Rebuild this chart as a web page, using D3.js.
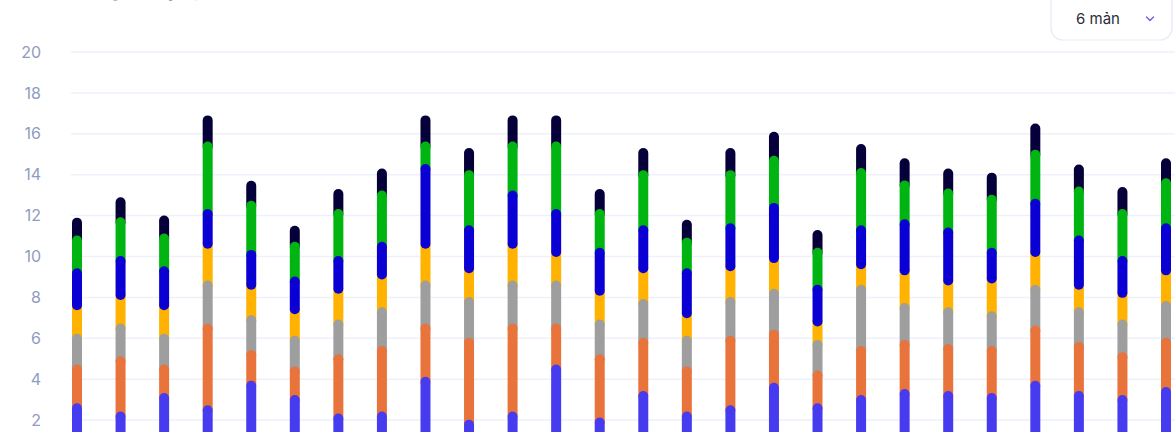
<!DOCTYPE html>
<html>
<head>
<meta charset="utf-8">
<script src="https://cdn.jsdelivr.net/npm/d3@7"></script>
<style>
  html, body { margin: 0; padding: 0; background: #ffffff; overflow: hidden; }
  svg { display: block; font-family: Inter, "Open Sans", "Noto Sans", sans-serif; }
</style>
</head>
<body>
<svg id="chart" width="1175" height="432"></svg>
<script>
// Days along the x axis
const days = ["01/06","02/06","03/06","04/06","05/06","06/06","07/06","08/06","09/06","10/06",
              "11/06","12/06","13/06","14/06","15/06","16/06","17/06","18/06","19/06","20/06",
              "21/06","22/06","23/06","24/06","25/06","26/06"];

// Stacked series, bottom to top
const kenh1 = [2.7,2.3,3.2,2.6,3.8,3.1,2.2,2.3,4.0,1.9,2.3,4.6,2.0,3.3,2.3,2.6,3.7,2.7,3.1,3.4,3.3,3.2,3.8,3.3,3.1,3.5];
const kenh2 = [1.9,2.7,1.4,4.0,1.5,1.4,2.9,3.2,2.6,4.0,4.3,2.0,3.1,2.6,2.2,3.4,2.6,1.6,2.4,2.4,2.3,2.3,2.7,2.4,2.1,2.4];
const kenh3 = [1.5,1.6,1.5,2.1,1.7,1.5,1.7,1.9,2.1,2.0,2.1,2.1,1.7,1.9,1.5,1.9,2.0,1.5,3.0,1.8,1.8,1.7,2.0,1.7,1.6,1.8];
const kenh4 = [1.4,1.4,1.4,1.8,1.5,1.3,1.5,1.6,1.8,1.4,1.8,1.4,1.4,1.5,1.1,1.5,1.5,0.9,1.0,1.6,1.3,1.6,1.6,1.1,1.3,1.5];
const kenh5 = [1.8,1.9,1.9,1.7,1.7,1.6,1.6,1.6,3.9,2.1,2.6,2.1,2.1,2.1,2.2,2.1,2.7,1.8,1.9,2.5,2.6,1.5,2.6,2.4,1.8,2.3];
const kenh6 = [1.6,1.9,1.6,3.3,2.4,1.7,2.3,2.5,1.1,2.7,2.4,3.3,1.9,2.7,1.5,2.6,2.3,1.8,2.8,1.9,1.9,2.6,2.4,2.4,2.3,2.2];
const kenh7 = [1.0,1.1,1.0,1.4,1.1,0.9,1.1,1.2,1.4,1.2,1.4,1.4,1.1,1.2,1.0,1.2,1.3,1.0,1.3,1.2,1.1,1.2,1.4,1.2,1.2,1.1];

const seriesKeys = ["kenh1","kenh2","kenh3","kenh4","kenh5","kenh6","kenh7"];
const seriesValues = [kenh1, kenh2, kenh3, kenh4, kenh5, kenh6, kenh7];
const seriesColors = ["#473bf0","#e8743b","#9e9e9e","#ffb200","#0a00d4","#00b512","#06003a"];
// paint order of the series (first painted sits underneath)
const paintOrder = [6, 5, 3, 4, 2, 1, 0];

const yTicks = [2,4,6,8,10,12,14,16,18,20];

const svg = d3.select("#chart");

const rows = days.map((d, i) => {
  const r = { day: d };
  seriesKeys.forEach((k, s) => r[k] = seriesValues[s][i]);
  return r;
});
const stacked = d3.stack().keys(seriesKeys)(rows);

const x = d3.scalePoint().domain(days).range([77, 1166]);
const y = d3.scaleLinear().domain([0, 20]).range([461, 52]);

// horizontal grid lines
svg.append("g")
  .selectAll("line")
  .data(yTicks)
  .join("line")
  .attr("x1", 71).attr("x2", 1175)
  .attr("y1", d => y(d)).attr("y2", d => y(d))
  .attr("stroke", "#eef1fc")
  .attr("stroke-width", 1.5);

// y axis labels
const yAxis = d3.axisLeft(y).tickValues(yTicks).tickSize(0).tickPadding(0);
const gy = svg.append("g").attr("transform", "translate(41,0)").call(yAxis);
gy.select(".domain").remove();
gy.selectAll("text")
  .attr("fill", "#8f9bc2")
  .attr("font-size", 16)
  .attr("font-family", "Inter, 'Open Sans', sans-serif");

// stacked bar segments with rounded ends
const barW = 10, r = 5;
const rank = {};
paintOrder.forEach((s, i) => rank[s] = i);

function extent(s, side) {
  // side: -1 lower neighbour, +1 upper neighbour
  const n = s + side;
  if (n < 0) return 40;
  if (n >= seriesKeys.length) return 0;
  return rank[s] > rank[n] ? 2.5 : 7.5;
}

const bars = svg.append("g");
paintOrder.forEach(s => {
  const layer = stacked[s];
  bars.append("g")
    .attr("fill", seriesColors[s])
    .selectAll("rect")
    .data(layer)
    .join("rect")
    .attr("x", d => x(d.data.day) - barW / 2)
    .attr("width", barW)
    .attr("y", d => y(d[1]) - extent(s, 1))
    .attr("height", d => (y(d[0]) + extent(s, -1)) - (y(d[1]) - extent(s, 1)))
    .attr("rx", r).attr("ry", r);
});

// title (mostly above the visible area)
svg.append("text")
  .attr("x", 70).attr("y", -3)
  .attr("fill", "#6f7fb8")
  .attr("font-size", 16)
  .attr("font-weight", 600)
  .text("Thống kê truy cập");

// period selector
const sel = svg.append("g");
sel.append("rect")
  .attr("x", 1051).attr("y", -12)
  .attr("width", 121).attr("height", 52)
  .attr("rx", 12)
  .attr("fill", "#ffffff")
  .attr("stroke", "#e6e9f6")
  .attr("stroke-width", 1.2);
sel.append("text")
  .attr("x", 1076).attr("y", 24)
  .attr("fill", "#2d2d3a")
  .attr("font-size", 15)
  .text("6 mản");
sel.append("path")
  .attr("d", "M1146.5,17 L1150,20.5 L1153.5,17")
  .attr("fill", "none")
  .attr("stroke", "#6a5ff0")
  .attr("stroke-width", 1.4)
  .attr("stroke-linecap", "round")
  .attr("stroke-linejoin", "round");
</script>
</body>
</html>
